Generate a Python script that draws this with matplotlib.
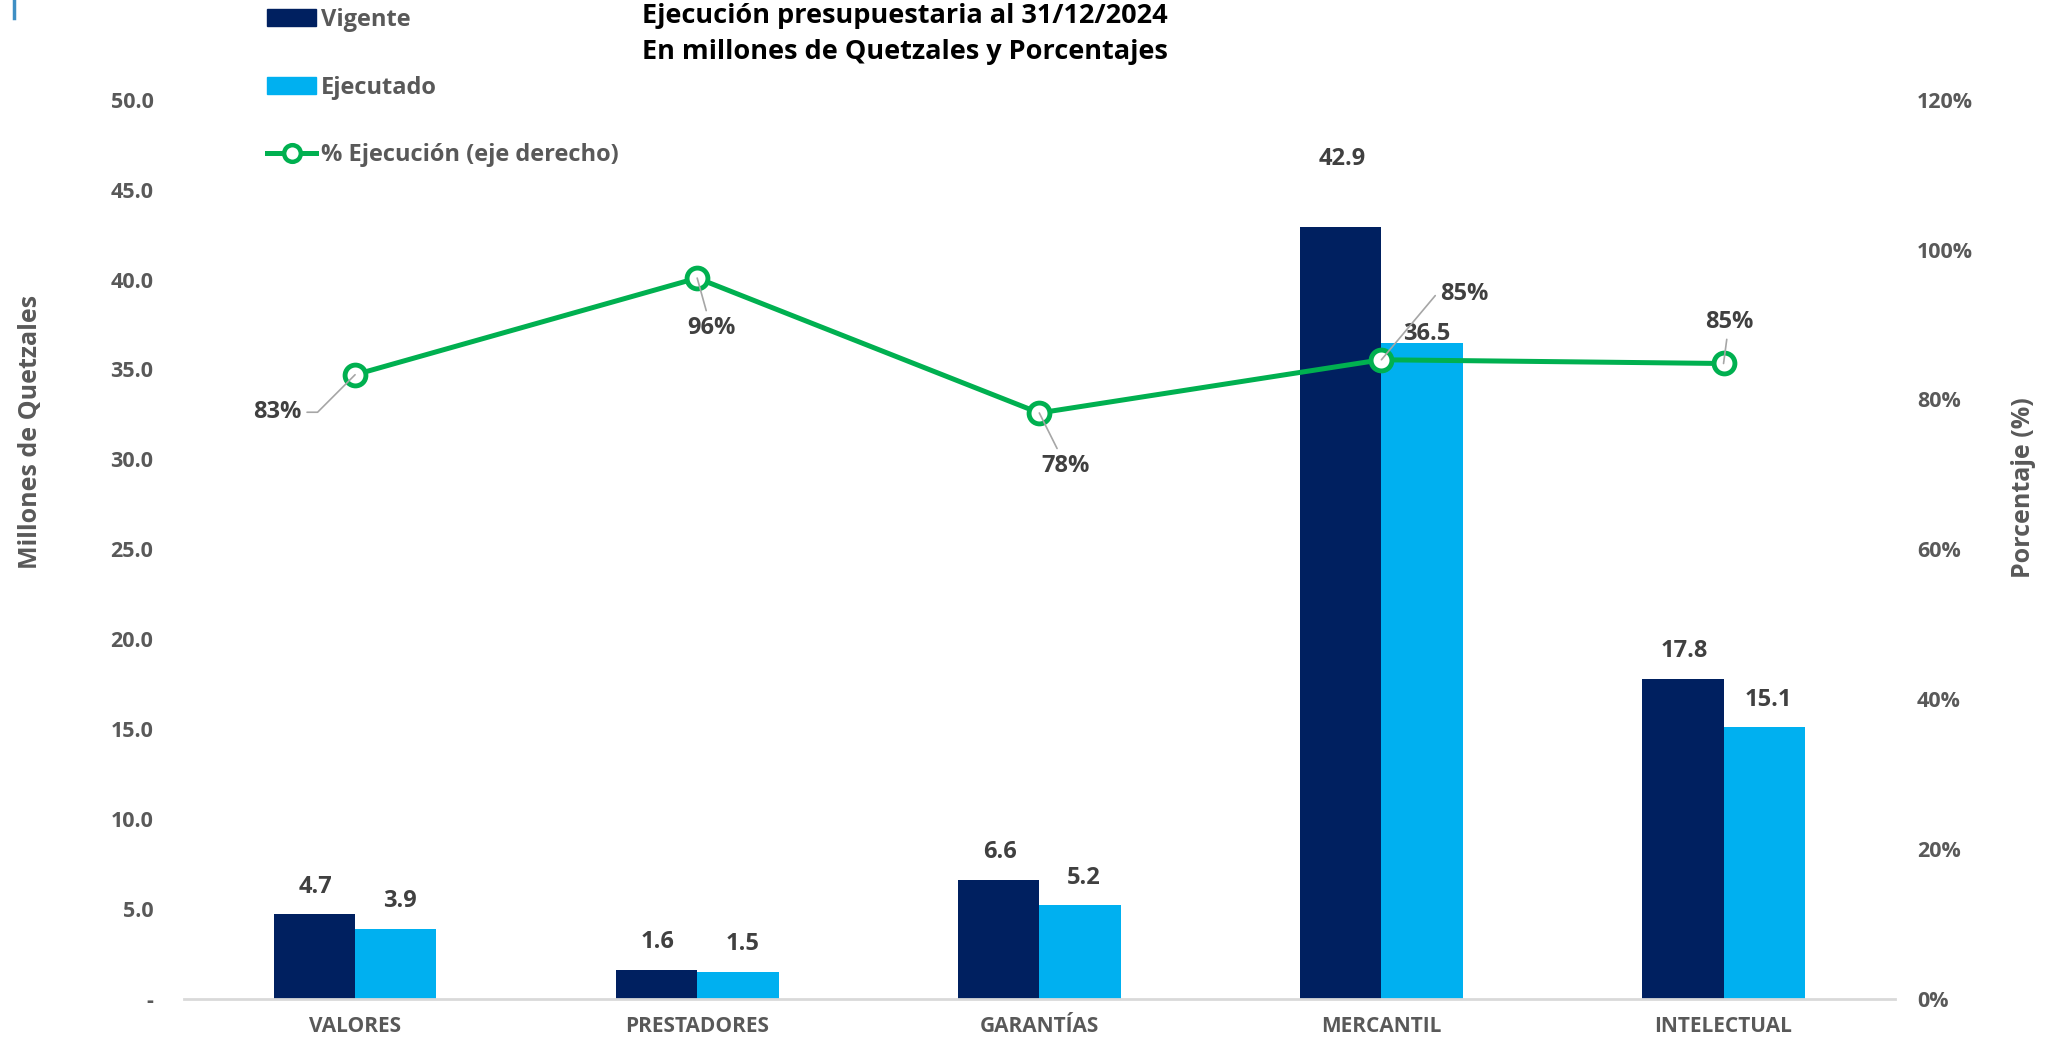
import matplotlib.pyplot as plt
import numpy as np
from matplotlib.lines import Line2D
from matplotlib.patches import Patch

plt.rcParams['font.family'] = ['Open Sans', 'DejaVu Sans']

categorias = ["VALORES", "PRESTADORES", "GARANTÍAS", "MERCANTIL", "INTELECTUAL"]
vigente = [4.7, 1.6, 6.6, 42.9, 17.8]
ejecutado = [3.9, 1.5, 5.2, 36.5, 15.1]
pct_ejecucion = [83.3, 96.2, 78.2, 85.3, 84.8]
pct_labels = ["83%", "96%", "78%", "85%", "85%"]
y_ticks = [0, 5, 10, 15, 20, 25, 30, 35, 40, 45, 50]
y2_ticks = [0, 20, 40, 60, 80, 100, 120]

C_VIG = '#002060'
C_EJE = '#00B0F0'
C_LINE = '#00B050'
C_TXT = '#595959'
C_LBL = '#404040'

fig = plt.figure(figsize=(20.56, 10.42), dpi=100)
ax = fig.add_axes([0.0895, 0.0413, 0.832, 0.863])
ax2 = ax.twinx()
ax.set_zorder(1)
ax2.set_zorder(2)
ax.patch.set_visible(False)

x = np.arange(len(categorias))
w = 0.238
ax.bar(x - w / 2, vigente, w, color=C_VIG)
ax.bar(x + w / 2, ejecutado, w, color=C_EJE)

ax.set_xlim(-0.5, len(categorias) - 0.5)
ax.set_ylim(0, 50)
ax.set_yticks(y_ticks)
ax.set_yticklabels(['-'] + [f"{v:.1f}" for v in y_ticks[1:]])
ax.set_xticks(x)
ax.set_xticklabels(categorias)
ax.tick_params(axis='y', length=0, pad=22, labelsize=15.5, labelcolor=C_TXT)
ax.tick_params(axis='x', length=0, pad=12, labelsize=15, labelcolor=C_TXT)
for lab in ax.get_xticklabels() + ax.get_yticklabels():
    lab.set_fontweight('bold')
for s in ['top', 'left', 'right']:
    ax.spines[s].set_visible(False)
ax.spines['bottom'].set_color('#D9D9D9')
ax.spines['bottom'].set_linewidth(2)

# etiquetas de barras
vig_off = [20, 20, 20, 49, 20]
eje_off = [20, 20, 20, 6, 20]
for i in range(len(categorias)):
    ax.annotate(f"{vigente[i]:.1f}", (x[i] - w / 2, vigente[i]), xytext=(1, vig_off[i]),
                textcoords='offset points', ha='center', va='center',
                fontsize=17, fontweight='bold', color=C_LBL)
    ax.annotate(f"{ejecutado[i]:.1f}", (x[i] + w / 2, ejecutado[i]), xytext=(3, eje_off[i]),
                textcoords='offset points', ha='center', va='center',
                fontsize=17, fontweight='bold', color=C_LBL)

# linea de porcentaje
ax2.plot(x, pct_ejecucion, color=C_LINE, lw=3.6, marker='o', markersize=15,
         markerfacecolor='white', markeredgecolor=C_LINE, markeredgewidth=3.5)
ax2.set_ylim(0, 120)
ax2.set_yticks(y2_ticks)
ax2.set_yticklabels([f"{v}%" for v in y2_ticks])
ax2.tick_params(axis='y', length=0, pad=16, labelsize=15.5, labelcolor=C_TXT)
for lab in ax2.get_yticklabels():
    lab.set_fontweight('bold')
for s in ax2.spines.values():
    s.set_visible(False)

pct_off = [(-56, -27), (10, -36), (19, -38), (60, 47), (4, 30)]
pct_conn = ["angle,angleA=0,angleB=45,rad=0", "arc3", "arc3",
            "angle,angleA=0,angleB=50,rad=0", "arc3"]
for i in range(len(categorias)):
    ax2.annotate(pct_labels[i], (x[i], pct_ejecucion[i]), xytext=pct_off[i],
                 textcoords='offset points', ha='center', va='center',
                 fontsize=17, fontweight='bold', color=C_LBL,
                 arrowprops=dict(arrowstyle='-', color='#A6A6A6', lw=1.2,
                                 shrinkA=2, shrinkB=0, connectionstyle=pct_conn[i]))

fig.text(0.440, 1 - 16 / 1042, "Ejecución presupuestaria al 31/12/2024",
         ha='center', va='center', fontsize=19.5, fontweight='bold', color='black')
fig.text(0.440, 1 - 52 / 1042, "En millones de Quetzales y Porcentajes",
         ha='center', va='center', fontsize=19.5, fontweight='bold', color='black')
fig.text(0.015, 0.585, "Millones de Quetzales", rotation=90, ha='center', va='center',
         fontsize=18, fontweight='bold', color=C_TXT)
fig.text(0.984, 0.532, "Porcentaje (%)", rotation=90, ha='center', va='center',
         fontsize=18, fontweight='bold', color=C_TXT)

# marca pequeña en la esquina superior izquierda
fig.add_artist(Line2D([14 / 2056, 14 / 2056], [1.0, 1 - 18 / 1042],
                      transform=fig.transFigure, color='#3F8FC4', lw=2.5))

handles = [Patch(color=C_VIG), Patch(color=C_EJE),
           Line2D([], [], color=C_LINE, lw=3.6, marker='o', markersize=12,
                  markerfacecolor='white', markeredgecolor=C_LINE, markeredgewidth=3.2)]
fig.legend(handles, ["Vigente", "Ejecutado", "% Ejecución (eje derecho)"],
           loc='upper left', bbox_to_anchor=(262 / 2056, 0.997), frameon=False,
           borderaxespad=0, borderpad=0.2, labelspacing=1.85, handlelength=2.1,
           handleheight=0.7, handletextpad=0.2, numpoints=1,
           prop={'size': 17, 'weight': 'bold'}, labelcolor=C_TXT)

fig.savefig("out.png", dpi=100)
